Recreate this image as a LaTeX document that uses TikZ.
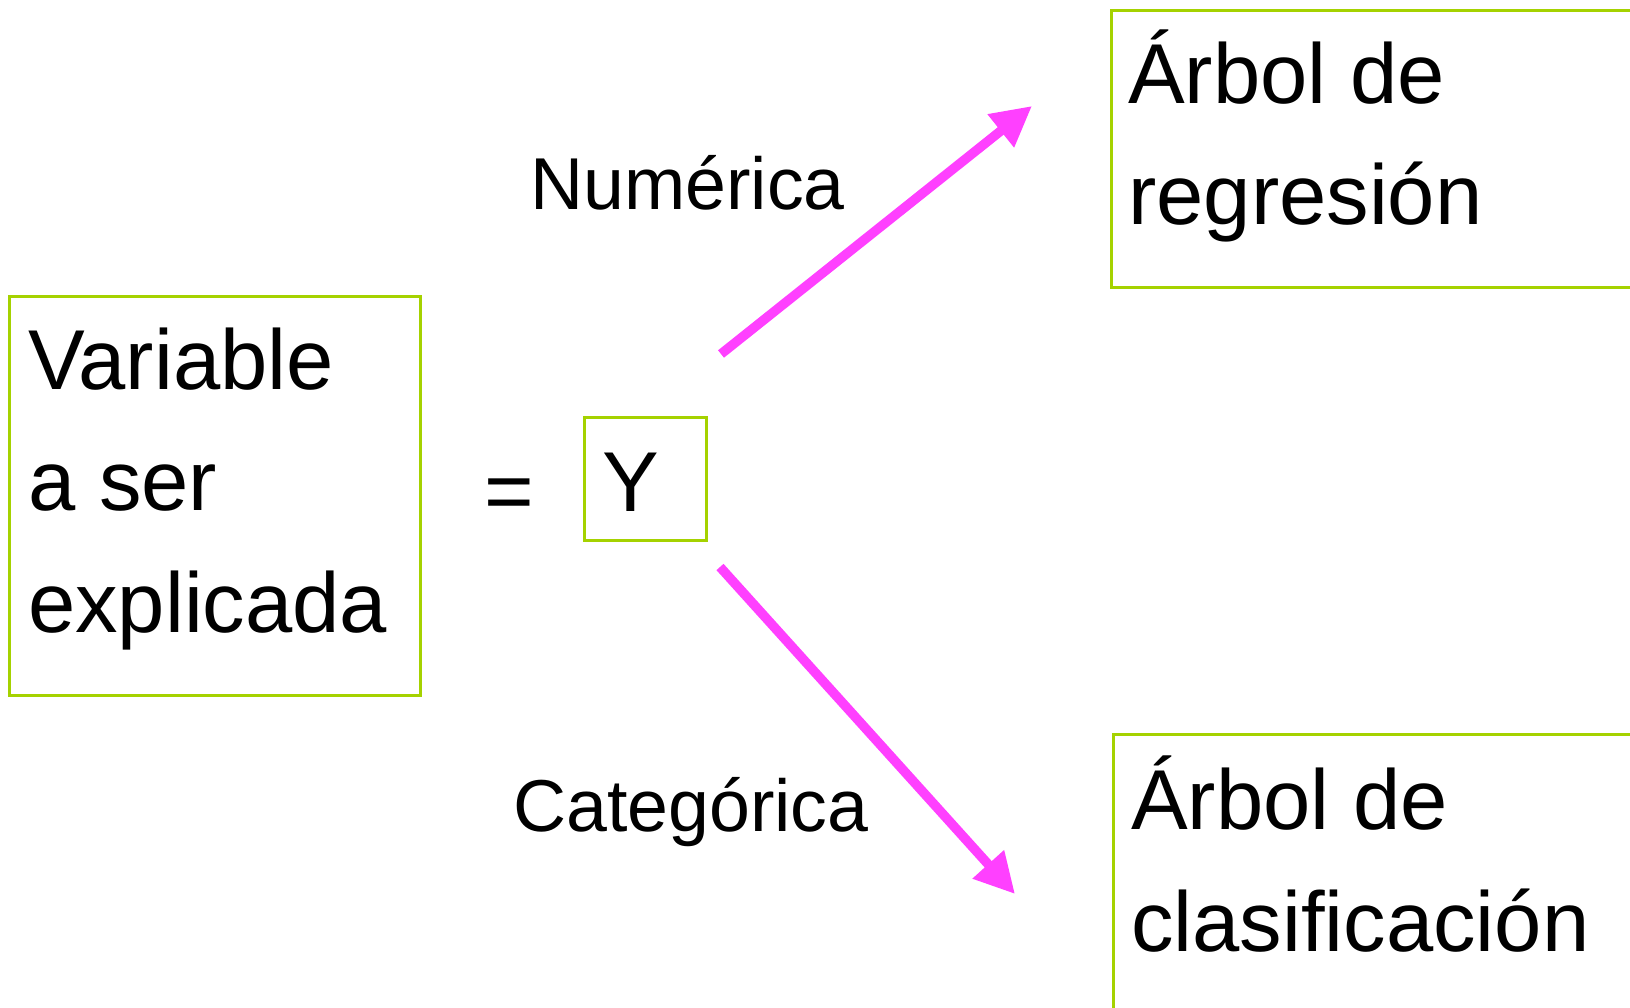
\documentclass[tikz,border=0pt]{standalone}
\usepackage{fontspec}
\setmainfont[Ligatures=CommonOff]{Liberation Sans}
\usetikzlibrary{arrows.meta}
\definecolor{framegreen}{RGB}{165,210,0}
\definecolor{arrowpink}{RGB}{255,64,255}
\begin{document}
\begin{tikzpicture}[x=1pt,y=-1pt,
  frame/.style={draw=framegreen, line width=2.8pt, inner sep=0pt, anchor=north west},
  bigtext/.style={font=\fontsize{85}{121.5}\selectfont, inner sep=0pt, align=left, anchor=base west},
  labeltext/.style={font=\fontsize{73.5}{88}\selectfont, inner sep=0pt, anchor=base west},
  branch/.style={draw=arrowpink, line width=9.5pt, -{Triangle[length=40pt,width=40pt]}}]

  % page area
  \path[use as bounding box, clip] (0,0) rectangle (1630,1008);

  % frames
  \node[frame, minimum width=411pt, minimum height=399pt] (varbox) at (8,295) {};
  \node[frame, minimum width=122pt, minimum height=123pt] (ybox) at (583,416) {};
  \node[frame, minimum width=700pt, minimum height=277pt] (regbox) at (1110,9) {};
  \node[frame, minimum width=700pt, minimum height=400pt] (clabox) at (1112,733) {};

  % texts (anchored at the baseline of their last line)
  \node[bigtext] (vartext) at (28,632) {Variable\\a ser\\explicada};
  \node[bigtext] (eq) at (484,520) {=};
  \node[bigtext] (ytext) at (602,511) {Y};
  \node[bigtext] (regtext) at (1128,225) {Árbol de\\regresión};
  \node[bigtext] (clatext) at (1131,951) {Árbol de\\clasificación};

  % branch labels
  \node[labeltext] (num) at (530,210) {Numérica};
  \node[labeltext] (cat) at (513,831) {Categórica};

  % branch arrows
  \coordinate (numtail) at (721,354);
  \coordinate (numtip) at (1032,106);
  \coordinate (cattail) at (720,567);
  \coordinate (cattip) at (1015,894);
  \draw[branch] (numtail) -- (numtip);
  \draw[branch] (cattail) -- (cattip);
\end{tikzpicture}
\end{document}
